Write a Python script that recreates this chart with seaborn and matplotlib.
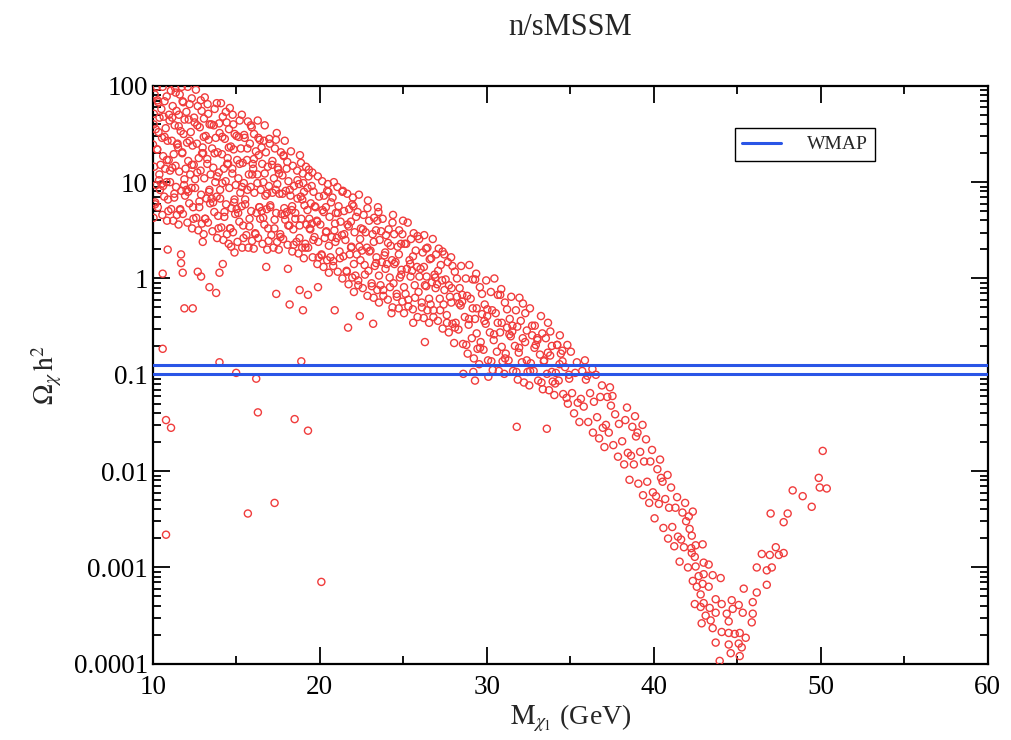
import numpy as np
import pandas as pd
import matplotlib
matplotlib.use("Agg")
import matplotlib.pyplot as plt
import matplotlib.ticker as mticker
from matplotlib.lines import Line2D
import seaborn as sns

# ---------------- data (mass in GeV, log10 of Omega h^2) ----------------
band_mass = [
    10.05,10.31,10.14,10.44,10.22,10.38,10.09,10.47,10.27,10.02,10.35,10.18,10.41,10.07,10.29,10.12,10.24,
    10.86,10.58,10.92,10.69,10.53,10.83,10.75,10.96,10.63,10.89,10.56,10.78,10.66,10.98,10.71,10.84,10.60,
    11.23,11.45,11.11,11.30,11.40,11.04,11.17,11.37,11.26,11.49,11.15,11.32,11.01,11.43,11.20,11.09,11.34,
    11.55,11.81,11.64,11.94,11.72,11.88,11.59,11.97,11.77,11.52,11.85,11.68,11.91,11.57,11.79,11.62,11.74,
    12.36,12.08,12.42,12.19,12.03,12.33,12.25,12.46,12.13,12.39,12.06,12.28,12.16,12.48,12.21,12.34,12.10,
    12.73,12.95,12.61,12.80,12.90,12.54,12.67,12.87,12.76,12.99,12.65,12.82,12.51,12.93,12.70,12.59,
    13.05,13.31,13.14,13.44,13.22,13.38,13.09,13.47,13.27,13.02,13.35,13.18,13.41,13.07,13.29,13.12,
    13.86,13.58,13.92,13.69,13.53,13.83,13.75,13.96,13.63,13.89,13.56,13.78,13.66,13.98,13.71,13.84,
    14.23,14.45,14.11,14.30,14.40,14.04,14.17,14.37,14.26,14.49,14.15,14.32,14.01,14.43,14.20,14.09,
    14.55,14.81,14.64,14.94,14.72,14.88,14.59,14.97,14.77,14.52,14.85,14.68,14.91,14.57,14.79,14.62,
    15.36,15.08,15.42,15.19,15.03,15.33,15.25,15.46,15.13,15.39,15.06,15.28,15.16,15.48,15.21,15.34,
    15.73,15.95,15.61,15.80,15.90,15.54,15.67,15.87,15.76,15.99,15.65,15.82,15.51,15.93,15.70,
    16.05,16.31,16.14,16.44,16.22,16.38,16.09,16.47,16.27,16.02,16.35,16.18,16.41,16.07,16.29,
    16.86,16.58,16.92,16.69,16.53,16.83,16.75,16.96,16.63,16.89,16.56,16.78,16.66,16.98,16.71,
    17.23,17.45,17.11,17.30,17.40,17.04,17.17,17.37,17.26,17.49,17.15,17.32,17.01,17.43,
    17.55,17.81,17.64,17.94,17.72,17.88,17.59,17.97,17.77,17.52,17.85,17.68,17.91,
    18.36,18.08,18.42,18.19,18.03,18.33,18.25,18.46,18.13,18.39,18.06,18.28,
    18.73,18.95,18.61,18.80,18.90,18.54,18.67,18.87,18.76,18.99,18.65,18.82,
    19.05,19.31,19.14,19.44,19.22,19.38,19.09,19.47,19.27,19.02,19.35,19.18,
    19.86,19.58,19.92,19.69,19.53,19.83,19.75,19.96,19.63,19.89,19.56,
    20.23,20.45,20.11,20.30,20.40,20.04,20.17,20.37,20.26,20.49,20.15,
    20.55,20.81,20.64,20.94,20.72,20.88,20.59,20.97,20.77,20.52,20.85,
    21.36,21.08,21.42,21.19,21.03,21.33,21.25,21.46,21.13,21.39,21.06,
    21.73,21.95,21.61,21.80,21.90,21.54,21.67,21.87,21.76,21.99,21.65,
    22.05,22.31,22.14,22.44,22.22,22.38,22.09,22.47,22.27,22.02,22.35,
    22.86,22.58,22.92,22.69,22.53,22.83,22.75,22.96,22.63,22.89,
    23.23,23.45,23.11,23.30,23.40,23.04,23.17,23.37,23.26,23.49,
    23.55,23.81,23.64,23.94,23.72,23.88,23.59,23.97,23.77,23.52,
    24.36,24.08,24.42,24.19,24.03,24.33,24.25,24.46,24.13,24.39,
    24.73,24.95,24.61,24.80,24.90,24.54,24.67,24.87,24.76,24.99,
    25.05,25.31,25.14,25.44,25.22,25.38,25.09,25.47,25.27,
    25.86,25.58,25.92,25.69,25.53,25.83,25.75,25.96,25.63,
    26.23,26.45,26.11,26.30,26.40,26.04,26.17,26.37,26.26,
    26.55,26.81,26.64,26.94,26.72,26.88,26.59,26.97,26.77,
    27.36,27.08,27.42,27.19,27.03,27.33,27.25,27.46,27.13,
    27.73,27.95,27.61,27.80,27.90,27.54,27.67,27.87,
    28.05,28.31,28.14,28.44,28.22,28.38,28.09,28.47,
    28.86,28.58,28.92,28.69,28.53,28.83,28.75,28.96,
    29.23,29.45,29.11,29.30,29.40,29.04,29.17,29.37,
    29.55,29.81,29.64,29.94,29.72,29.88,29.59,29.97,
    30.36,30.08,30.42,30.19,30.03,30.33,30.25,30.46,
    30.73,30.95,30.61,30.80,30.90,30.54,30.67,30.87,
    31.05,31.31,31.14,31.44,31.22,31.38,31.09,31.47,
    31.86,31.58,31.92,31.69,31.53,31.83,31.75,31.96,
    32.23,32.45,32.11,32.30,32.40,32.04,32.17,
    32.55,32.81,32.64,32.94,32.72,32.88,32.59,
    33.36,33.08,33.42,33.19,33.03,33.33,33.25,
    33.73,33.95,33.61,33.80,33.90,33.54,33.67,
    34.05,34.31,34.14,34.44,34.22,34.38,
    34.86,34.58,34.92,34.69,34.53,34.83,
    35.23,35.45,35.11,35.30,35.40,35.04,
    35.55,35.81,35.64,35.94,35.72,35.88,
    36.36,36.08,36.42,36.19,36.03,36.33,
    36.73,36.95,36.61,36.80,36.90,36.54,
    37.05,37.31,37.14,37.44,37.22,37.38,
    37.86,37.58,37.92,37.69,37.53,
    38.23,38.45,38.11,38.30,38.40,
    38.55,38.81,38.64,38.94,38.72,38.88,
    39.36,39.08,39.42,39.19,39.03,39.33,
    39.73,39.95,39.61,39.80,39.90,39.54,
    40.05,40.31,40.14,40.44,40.22,40.38,
    40.86,40.58,40.92,40.69,40.53,40.83,
    41.23,41.45,41.11,41.30,41.40,41.04,
    41.55,41.81,41.64,41.94,41.72,41.88,
    42.05,42.25,42.15,42.10,
]
band_log = [
    .63,.74,.77,.92,.97,1.02,1.16,1.18,1.34,1.39,1.52,1.55,1.67,1.71,1.85,1.91,1.99,
    .60,.66,.82,.85,.98,1.00,1.14,1.23,1.27,1.43,1.46,1.56,1.68,1.70,1.84,1.89,1.99,
    .60,.66,.72,.88,.95,1.00,1.15,1.17,1.29,1.40,1.43,1.59,1.64,1.74,1.79,1.95,1.98,
    .56,.67,.71,.86,.91,.97,1.11,1.14,1.31,1.36,1.50,1.53,1.65,1.70,1.84,1.91,1.99,
    .52,.58,.74,.78,.92,.94,1.08,1.18,1.22,1.38,1.41,1.52,1.65,1.67,1.81,1.87,1.99,
    .50,.57,.63,.80,.87,.94,1.10,1.12,1.25,1.36,1.40,1.57,1.62,1.74,1.79,1.96,
    .46,.58,.62,.78,.83,.90,1.04,1.08,1.24,1.30,1.44,1.48,1.60,1.66,1.81,1.88,
    .42,.49,.65,.69,.83,.85,1.00,1.10,1.15,1.31,1.35,1.46,1.59,1.61,1.76,1.82,
    .40,.46,.53,.69,.77,.83,.99,1.01,1.14,1.25,1.29,1.45,1.51,1.62,1.68,1.82,
    .36,.48,.52,.67,.73,.79,.94,.97,1.14,1.19,1.34,1.37,1.50,1.55,1.70,1.77,
    .32,.38,.55,.59,.72,.75,.89,.99,1.04,1.20,1.23,1.35,1.47,1.49,1.64,1.70,
    .32,.39,.45,.62,.70,.77,.92,.95,1.08,1.19,1.23,1.40,1.46,1.57,1.63,
    .31,.42,.47,.62,.68,.74,.89,.92,1.08,1.14,1.28,1.32,1.44,1.50,1.64,
    .30,.36,.52,.56,.70,.72,.86,.96,1.00,1.16,1.19,1.31,1.43,1.45,1.59,
    .32,.38,.45,.61,.68,.74,.89,.92,1.04,1.15,1.18,1.35,1.40,1.51,
    .30,.41,.46,.61,.67,.73,.88,.91,1.07,1.13,1.27,1.31,1.43,
    .28,.35,.51,.55,.69,.71,.86,.96,1.01,1.17,1.21,1.32,
    .26,.32,.38,.55,.62,.68,.83,.85,.98,1.09,1.12,1.28,
    .21,.32,.36,.51,.56,.62,.76,.78,.94,.99,1.13,1.16,
    .15,.22,.38,.43,.57,.60,.74,.85,.90,1.06,1.10,
    .12,.19,.25,.42,.49,.56,.71,.74,.86,.98,1.01,
    .06,.18,.22,.38,.43,.50,.64,.68,.84,.90,1.00,
    .00,.07,.23,.28,.42,.45,.59,.70,.75,.91,.95,
    -.06,.01,.08,.25,.33,.40,.56,.59,.72,.84,.88,
    -.14,-.02,.03,.19,.25,.33,.48,.52,.69,.75,.87,
    -.18,-.10,.08,.14,.29,.32,.48,.60,.66,.81,
    -.20,-.12,-.05,.13,.22,.29,.46,.50,.63,.74,
    -.25,-.12,-.07,.10,.17,.24,.40,.45,.62,.69,
    -.30,-.22,-.05,.01,.15,.19,.34,.46,.51,.66,
    -.31,-.24,-.16,.01,.09,.17,.33,.36,.50,.60,
    -.36,-.22,-.16,.02,.10,.19,.36,.41,.58,
    -.40,-.32,-.14,-.07,.08,.12,.29,.41,.47,
    -.41,-.33,-.25,-.07,.02,.10,.27,.31,.45,
    -.46,-.33,-.27,-.10,-.04,.04,.20,.25,.41,
    -.52,-.44,-.27,-.21,-.06,-.02,.14,.25,.31,
    -.56,-.47,-.38,-.19,-.10,-.01,.17,.22,
    -.67,-.53,-.46,-.28,-.19,-.10,.07,.13,
    -.78,-.68,-.48,-.40,-.24,-.18,.00,.14,
    -.83,-.73,-.62,-.42,-.31,-.21,-.01,.05,
    -.89,-.74,-.66,-.47,-.37,-.27,-.09,-.02,
    -.95,-.85,-.64,-.56,-.39,-.33,-.14,.00,
    -.96,-.86,-.76,-.56,-.46,-.36,-.17,-.11,
    -.99,-.85,-.78,-.60,-.51,-.42,-.25,-.19,
    -1.05,-.96,-.77,-.70,-.55,-.50,-.33,-.20,
    -1.08,-.97,-.87,-.66,-.54,-.44,-.26,
    -1.11,-.96,-.88,-.69,-.59,-.49,-.31,
    -1.15,-1.06,-.86,-.79,-.62,-.57,-.39,
    -1.16,-1.07,-.99,-.80,-.70,-.62,-.46,
    -1.21,-1.06,-.98,-.78,-.69,-.59,
    -1.30,-1.20,-1.00,-.92,-.75,-.69,
    -1.40,-1.29,-1.19,-.98,-.87,-.76,
    -1.49,-1.33,-1.25,-1.05,-.96,-.85,
    -1.60,-1.49,-1.28,-1.19,-1.01,-.94,
    -1.66,-1.55,-1.44,-1.23,-1.11,-1.00,
    -1.75,-1.60,-1.52,-1.32,-1.23,-1.13,
    -1.85,-1.73,-1.51,-1.41,-1.22,
    -1.93,-1.81,-1.69,-1.47,-1.34,
    -2.09,-1.93,-1.84,-1.64,-1.54,-1.43,
    -2.25,-2.13,-1.90,-1.80,-1.60,-1.52,
    -2.33,-2.22,-2.11,-1.90,-1.78,-1.67,
    -2.49,-2.34,-2.26,-2.07,-1.98,-1.88,
    -2.70,-2.59,-2.38,-2.29,-2.11,-2.04,
    -2.78,-2.68,-2.58,-2.38,-2.27,-2.17,
    -2.94,-2.79,-2.71,-2.52,-2.43,-2.33,
    -3.00,-2.80,-2.60,-2.47,
]

fill_mass = [
    10.15,10.40,10.27,10.06,10.33, 10.94,10.62,10.85,10.71,10.52, 11.29,11.04,11.46,11.17,11.38,
    11.65,11.90,11.77,11.56,11.83, 12.44,12.12,12.35,12.21,12.02, 12.79,12.54,12.96,12.67,12.88,
    13.15,13.40,13.27,13.06,13.33, 13.94,13.62,13.85,13.71,13.52, 14.29,14.04,14.46,14.17,14.38,
    14.65,14.90,14.77,14.56,14.83, 15.44,15.12,15.35,15.21,15.02, 15.79,15.54,15.96,15.67,15.88,
    16.15,16.40,16.27,16.06,16.33, 16.94,16.62,16.85,16.71,16.52, 17.29,17.04,17.46,17.17,17.38,
    17.65,17.90,17.77,17.56,17.83, 18.44,18.12,18.35,18.21,18.02, 18.79,18.54,18.96,18.67,18.88,
    19.15,19.40,19.27,19.06,19.33, 19.94,19.62,19.85,19.71,19.52,
    20.12,20.38,20.24,20.45, 20.81,20.55,20.92,20.68, 21.21,21.47,21.09,21.36, 21.62,21.88,21.74,21.95,
    22.31,22.05,22.42,22.18, 22.71,22.97,22.59,22.86, 23.12,23.38,23.24,23.45, 23.81,23.55,23.92,23.68,
    24.21,24.47,24.09,24.36, 24.62,24.88,24.74,24.95, 25.31,25.05,25.42,25.18, 25.71,25.97,25.59,25.86,
    26.12,26.38,26.24,26.45, 26.81,26.55,26.92,26.68, 27.21,27.47,27.09,27.36, 27.62,27.88,27.74,27.95,
    28.10,28.36,28.22, 28.78,28.94,28.54, 29.40,29.16,29.31, 29.60,29.86,29.72, 30.28,30.44,30.04,
    30.90,30.66,30.81, 31.10,31.36,31.22, 31.78,31.94,31.54, 32.40,32.16,32.31, 32.60,32.86,32.72,
    33.28,33.44,33.04, 33.90,33.66,33.81, 34.10,34.36,34.22, 34.78,34.94,34.54,
]
fill_log = [
    .79,1.08,1.34,1.60,1.83, .70,.96,1.23,1.47,1.76, .84,1.12,1.39,1.67,1.93,
    .72,1.03,1.30,1.58,1.83, .62,.90,1.18,1.43,1.73, .74,1.03,1.30,1.59,1.85,
    .62,.92,1.19,1.47,1.71, .52,.79,1.06,1.30,1.60, .64,.92,1.19,1.47,1.73,
    .52,.82,1.09,1.36,1.60, .42,.68,.95,1.19,1.48, .54,.82,1.08,1.35,1.59,
    .46,.74,.99,1.24,1.46, .39,.63,.88,1.09,1.36, .52,.76,.98,1.22,1.44,
    .43,.66,.88,1.09,1.28, .35,.55,.75,.92,1.14, .42,.62,.82,1.02,1.20,
    .32,.52,.71,.90,1.06, .22,.40,.59,.75,.96,
    .24,.48,.69,.91, .13,.34,.57,.79, .21,.46,.68,.90, .07,.32,.54,.77,
    -.07,.15,.41,.64, .04,.28,.51,.73, -.08,.16,.38,.60, -.18,.03,.27,.49,
    -.09,.15,.37,.58, -.19,.04,.25,.46, -.29,-.09,.15,.36, -.20,.02,.23,.44,
    -.30,-.08,.12,.32, -.40,-.21,.01,.21, -.33,-.12,.08,.28, -.46,-.25,-.07,.13,
    -.51,-.26,.00, -.69,-.42,-.17, -.57,-.31,-.01, -.72,-.44,-.16, -.86,-.58,-.32,
    -.71,-.46,-.17, -.83,-.58,-.32, -.97,-.72,-.49, -.85,-.62,-.36, -.96,-.72,-.49,
    -1.08,-.85,-.64, -.97,-.77,-.55, -1.09,-.89,-.69, -1.24,-1.04,-.86,
]

tail_mass = [
    42.34,42.28,42.51,42.93,42.28,42.46,42.99,43.29,42.51,43.53,44.01,42.69,42.99,42.34,42.58,42.93,43.29,42.81,42.46,42.99,42.81,
    43.71,43.71,43.35,43.11,43.41,42.87,43.53,44.07,44.49,44.85,45.15,45.51,43.71,44.49,45.09,45.27,44.61,45.15,43.95,
    44.07,44.49,44.37,44.67,44.73,45.09,45.33,45.39,45.87,45.93,45.93,46.17,
    46.17,46.77,47.07,46.77,46.47,46.95,47.49,47.78,47.31,47.0,48.02,47.78,48.32,48.92,49.46,49.88,49.94,50.36,50.12,
]
tail_log = [
    -2.42,-2.67,-2.77,-2.76,-2.85,-2.89,-2.95,-2.97,-2.99,-3.08,-3.11,-3.09,-3.07,-3.14,-3.20,-3.17,-3.20,-3.28,-3.38,-3.37,-3.41,
    -3.33,-3.47,-3.42,-3.50,-3.55,-3.58,-3.63,-3.67,-3.68,-3.69,-3.68,-3.73,-3.78,-3.80,-3.79,-3.83,-3.89,-3.92,-3.97,
    -3.38,-3.56,-3.48,-3.34,-3.43,-3.39,-3.47,-3.22,-3.57,-3.36,-3.48,-3.26,
    -3.00,-3.03,-3.00,-3.18,-2.86,-2.87,-2.87,-2.85,-2.79,-2.44,-2.44,-2.53,-2.20,-2.26,-2.37,-2.07,-2.17,-2.18,-1.79,
]

outlier_mass = [
    10.6,10.9,11.7,11.7,11.8,13.0,12.7,12.9,13.4,13.8,11.9,12.4,14.0,14.2,14.7,14.9,16.8,17.4,18.2,18.8,
    19.0,19.3,19.9,18.1,20.9,21.7,22.4,23.2,24.3,25.6,26.3,
    10.6,14.0,18.9,15.0,16.2,16.3,18.5,19.3,10.8,11.1,17.3,15.7,10.8,20.1,31.8,33.6,28.6,29.2,29.3,30.1,
]
outlier_log = [
    0.05,0.30,0.25,0.16,0.06,0.38,0.07,0.02,-0.09,-0.15,-0.31,-0.31,0.06,0.15,0.33,0.27,0.12,-0.16,-0.27,-0.12,
    -0.33,-0.17,-0.09,0.10,-0.33,-0.51,-0.39,-0.47,-0.36,-0.46,-0.66,
    -0.73,-0.87,-0.86,-0.98,-1.04,-1.39,-1.46,-1.58,-1.47,-1.55,-2.33,-2.44,-2.66,-3.15,-1.54,-1.56,-0.99,-0.97,-1.06,-1.02,
]

wmap_bounds = [0.103, 0.127]

x_ticks = [10, 20, 30, 40, 50, 60]
y_ticks = [1e-4, 1e-3, 1e-2, 1e-1, 1, 10, 100]
y_tick_labels = ["0.0001", "0.001", "0.01", "0.1", "1", "10", "100"]

assert len(band_mass) == len(band_log), (len(band_mass), len(band_log))
assert len(fill_mass) == len(fill_log), (len(fill_mass), len(fill_log))
assert len(tail_mass) == len(tail_log)
assert len(outlier_mass) == len(outlier_log)

mass = band_mass + fill_mass + tail_mass + outlier_mass
logs = band_log + fill_log + tail_log + outlier_log
df = pd.DataFrame({"mass": mass, "omega": 10.0 ** np.array(logs)})

# ---------------- style ----------------
sns.set_theme(style="ticks")
plt.rcParams["font.family"] = ["Liberation Serif", "DejaVu Serif"]
plt.rcParams["mathtext.fontset"] = "stix"

fig = plt.figure(figsize=(10.11, 7.4), dpi=100)
ax = fig.add_axes([0.151, 0.103, 0.826, 0.781])

red = "#f03c3c"
sns.scatterplot(data=df, x="mass", y="omega", ax=ax, marker="o", s=26,
                facecolor="none", edgecolor=red, linewidth=1.0, legend=False,
                zorder=3)

blue = "#2a55e6"
for b in wmap_bounds:
    ax.axhline(b, color=blue, lw=2.2, zorder=4)

ax.set_yscale("log")
ax.set_xlim(10, 60)
ax.set_ylim(1e-4, 100)

ax.set_xticks(x_ticks)
ax.xaxis.set_minor_locator(mticker.MultipleLocator(5))
ax.yaxis.set_major_locator(mticker.FixedLocator(y_ticks))
ax.yaxis.set_major_formatter(mticker.FixedFormatter(y_tick_labels))
ax.yaxis.set_minor_locator(mticker.LogLocator(base=10, subs=np.arange(2, 10)))
ax.yaxis.set_minor_formatter(mticker.NullFormatter())

ax.tick_params(which="both", direction="in", top=True, right=True,
               colors="black", labelsize=19.5, width=1.3)
ax.tick_params(which="major", length=12)
ax.tick_params(which="minor", length=6)
ax.tick_params(axis="x", pad=8)
for sp in ax.spines.values():
    sp.set_linewidth(1.6)
    sp.set_color("black")

ax.set_xlabel(r"$\mathrm{M}_{\chi_1}$ (GeV)", fontsize=20, labelpad=2)
ax.set_ylabel(r"$\Omega_{\chi}\,\mathrm{h}^{2}$", fontsize=20)
ax.yaxis.set_label_coords(-0.106, 0.5)

fig.text(0.564, 0.963, "n/sMSSM", ha="center", va="center", fontsize=22)

handle = Line2D([0], [0], color=blue, lw=2.2)
leg = ax.legend([handle], ["WMAP"], loc="upper left",
                bbox_to_anchor=(0.697, 0.927), borderaxespad=0.0,
                fontsize=14, frameon=True, fancybox=False,
                edgecolor="black", framealpha=1, handlelength=2.0,
                borderpad=0.4, handletextpad=1.3)
leg.get_frame().set_linewidth(1.0)

fig.savefig("out.png", dpi=100, facecolor="white")
